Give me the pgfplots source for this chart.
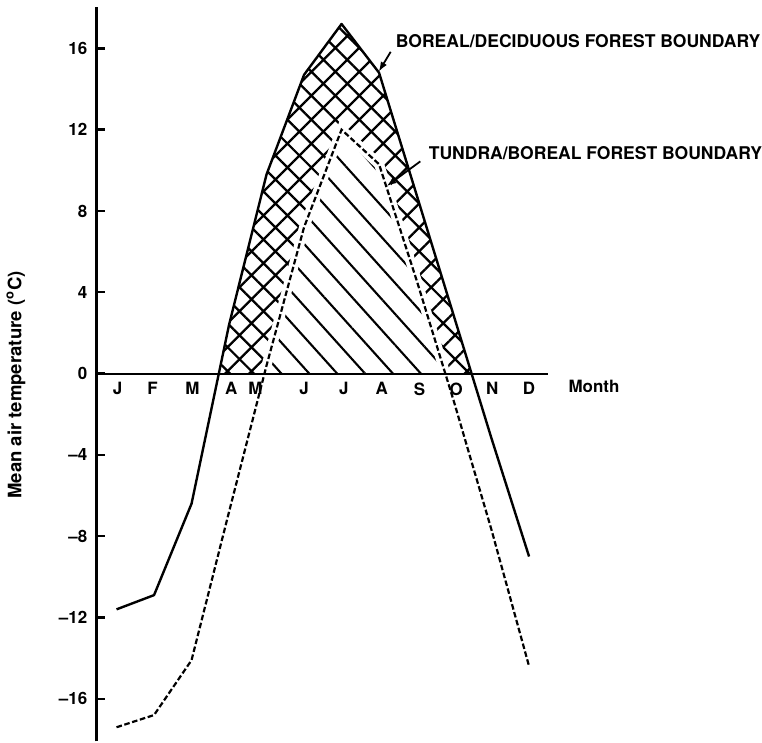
\documentclass[border=0pt]{standalone}
\usepackage{fontspec}
\setmainfont{TeX Gyre Heros}
\usepackage{pgfplots}
\pgfplotsset{compat=1.18}
\usetikzlibrary{patterns.meta,arrows.meta}

% Monthly mean air temperature at the two vegetation boundaries
\pgfplotstableread{
m   t
1   -11.6
2   -10.9
3   -6.4
4   2.4
5   9.8
6   14.7
7   17.2
8   14.8
9   8.8
10  2.8
11  -3.2
12  -9.0
}\borealdeciduous
\pgfplotstableread{
m   t
1   -17.4
2   -16.8
3   -14.1
4   -6.8
5   0.4
6   7.2
7   12.0
8   10.3
9   4.6
10  -1.4
11  -7.7
12  -14.4
}\tundraboreal

\begin{document}
\begin{tikzpicture}[font=\fontsize{8.5}{10}\selectfont\bfseries]
\begin{axis}[
  scale only axis,
  width=226.5pt, height=368.5pt,
  xmin=0.469, xmax=12.505,
  ymin=-18.09, ymax=18.04,
  clip=false,
  axis on top,
  axis x line=middle,
  axis y line=left,
  x axis line style={-, line width=1pt},
  y axis line style={-, line width=1.2pt},
  xtick={1.03,1.96,3.02,4.06,4.70,6.00,7.06,8.07,9.08,10.06,11.02,12.0},
  xticklabels={J,F,M,A,M,J,J,A,S,O,N,D},
  xtick style={draw=none},
  xticklabel style={anchor=north, yshift=-1pt},
  ytick={-16,-12,-8,-4,0,4,8,12,16},
  yticklabels={--16,--12,--8,--4,0,4,8,12,16},
  hide obscured y ticks=false,
  tick align=inside,
  major tick length=4pt,
  ytick style={line width=1.2pt, black},
  yticklabel style={xshift=-1.2pt},
]
% hatched areas above freezing
\begin{scope}
  \clip (axis cs:0.469,0) rectangle (axis cs:12.505,18.04);
  \addplot[draw=none, pattern={Hatch[angle=45,distance=8.5pt,line width=1.15pt]}]
    table[x=m,y=t] {\borealdeciduous} \closedcycle;
  \addplot[draw=none, fill=white] table[x=m,y=t] {\tundraboreal} \closedcycle;
  \addplot[draw=none, pattern={Lines[angle=-48,distance=10.4pt,line width=1.05pt]}]
    table[x=m,y=t] {\tundraboreal} \closedcycle;
  \addplot[white, line width=5pt] table[x=m,y=t] {\tundraboreal};
\end{scope}

\addplot[black, line width=1.2pt, line join=round] table[x=m,y=t] {\borealdeciduous};
\addplot[black, line width=1.1pt, dash pattern=on 2.8pt off 1.3pt] table[x=m,y=t] {\tundraboreal};

% labels
\node[anchor=center, inner sep=0pt] at (axis cs:13.73,-0.64) {Month};
\node[rotate=90, anchor=center, inner sep=0pt, font=\fontsize{9.3}{11}\selectfont\bfseries]
  at (axis cs:-1.683,-0.56) {Mean air temperature (\textsuperscript{o}C)};
\node[anchor=base west, inner sep=0pt, font=\fontsize{8.8}{10}\selectfont\bfseries]
  at (axis cs:8.439,16.06) {BOREAL/DECIDUOUS FOREST BOUNDARY};
\node[anchor=base west, inner sep=0pt, font=\fontsize{8.8}{10}\selectfont\bfseries]
  at (axis cs:9.316,10.54) {TUNDRA/BOREAL FOREST BOUNDARY};
\draw[-{Latex[length=5pt,width=3.5pt]}, line width=0.9pt] (axis cs:8.31,15.83) -- (axis cs:7.99,14.85);
\draw[-{Latex[length=5pt,width=3.5pt]}, line width=0.9pt] (axis cs:9.10,10.44) -- (axis cs:8.20,9.22);

% picture extent
\path (axis cs:-2.108,-18.09) (axis cs:18.136,18.38);
\end{axis}
\end{tikzpicture}
\end{document}
